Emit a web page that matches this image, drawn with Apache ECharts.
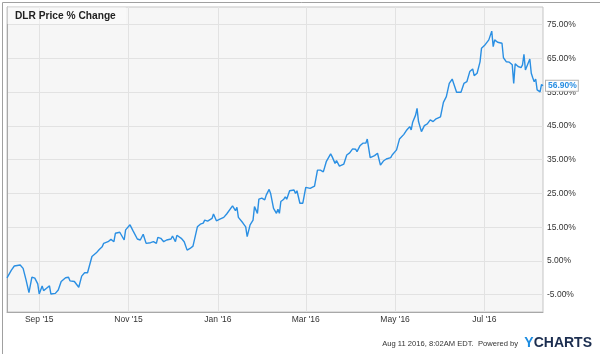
<!DOCTYPE html>
<html>
<head>
<meta charset="utf-8">
<script src="https://cdn.jsdelivr.net/npm/echarts@6/dist/echarts.min.js"></script>
<style>
  html, body { margin: 0; padding: 0; background: #fff; }
  #dlr-chart { width: 600px; height: 354px; }
</style>
</head>
<body>
<div id="dlr-chart"></div>
<script>
  // days counted from Aug 10 2015, values are % change
  const startDay = [2015, 7, 10];
  const spanDays = 366;
  const days = [
    0, 3, 5, 9, 11, 13, 15, 17,
    19, 21, 22, 24, 25, 27, 29, 30, 33, 35, 37, 40,
    42, 43, 46, 49, 51, 52, 53, 55,
    58, 61, 63, 65, 66, 69, 71, 73,
    74, 77, 78, 80, 81, 84, 86, 87,
    89, 91, 93, 95, 98, 100, 102, 103,
    105, 107, 109, 112, 113, 115, 116, 119,
    121, 123, 125, 127, 130, 132, 134, 135,
    137, 140, 141, 143, 145, 148, 150, 151,
    154, 156, 157, 158, 161, 163, 164, 165,
    166, 168, 169, 171, 172, 174, 176, 177,
    179, 180, 182, 184, 185, 186, 187, 189,
    190, 191, 193, 196, 197, 198, 200, 202,
    204, 205, 207, 210, 212, 214, 216, 218,
    221, 222, 224, 225, 227, 230, 231, 232,
    234, 236, 238, 239, 241, 243, 245, 246,
    248, 251, 253, 255, 257, 259, 262, 263,
    266, 267, 268, 271, 273, 275, 276, 277,
    278, 279, 280, 281, 283, 285, 287, 288,
    289, 291, 293, 296, 298, 300, 302, 304,
    305, 307, 310, 312, 314, 316, 318, 319,
    321, 323, 324, 326, 329, 331, 332, 333,
    335, 338, 339, 341, 343, 345, 346, 347,
    349, 351, 352, 353, 354, 357, 358, 359,
    360, 361, 362, 364, 365, 366
  ];
  const pctChange = [
    0, 2.3, 3.5, 3.8, 2.8, -0.6, -4.4, 0.2,
    -0.1, -1.8, -4.8, -2.4, -3.8, -3.1, -2.4, -4.8, -4.6, -3.6, -1.1, 0.0,
    0.15, -0.9, -1.1, -2.8, 0.5, 0.15, 1.5, 1.5,
    6.3, 7.4, 8.4, 9.2, 10.2, 10.7, 11.4, 10.7,
    13.2, 13.5, 13.0, 11.2, 14.2, 15.7, 14.0, 14.0,
    11.5, 11.2, 12.9, 10.2, 10.4, 10.7, 10.2, 12.0,
    11.7, 10.7, 11.2, 11.5, 12.4, 10.7, 12.6, 11.7,
    10.7, 8.2, 8.7, 9.4, 15.1, 15.9, 16.2, 17.1,
    16.8, 17.6, 18.9, 16.9, 17.3, 17.9, 18.9, 19.3,
    21.3, 19.9, 20.9, 17.9, 16.3, 15.1, 12.2, 12.0,
    15.7, 17.1, 21.1, 19.1, 23.3, 23.6, 23.1, 24.5,
    26.2, 25.0, 20.6, 19.1, 20.3, 19.1, 22.6, 23.3,
    24.0, 23.3, 25.8, 26.0, 25.0, 25.8, 22.1, 22.1,
    26.8, 27.2, 26.5, 27.2, 31.9, 31.9, 31.4, 34.4,
    36.7, 35.9, 33.9, 34.7, 33.1, 33.7, 34.1, 36.4,
    37.0, 38.2, 38.1, 37.4, 39.1, 39.9, 39.9, 41.1,
    35.6, 36.2, 36.9, 33.4, 34.6, 35.2, 35.6, 36.4,
    37.9, 38.2, 41.1, 42.5, 43.8, 44.8, 43.8, 46.1,
    45.8, 48.2, 50.2, 46.3, 43.3, 45.1, 45.6, 45.6,
    46.8, 46.3, 47.1, 47.7, 52.0, 53.7, 57.6, 58.9,
    57.6, 55.0, 55.0, 57.6, 58.1, 61.1, 61.9, 59.9,
    60.6, 64.0, 68.0, 68.8, 70.5, 73.1, 68.5, 70.5,
    69.8, 69.5, 65.2, 64.0, 63.9, 63.1, 57.6, 63.4,
    62.6, 62.3, 63.1, 66.2, 61.6, 64.8, 60.6, 59.3,
    58.1, 58.9, 55.7, 55.1, 57.3, 56.9
  ];
  const monthNames = ['Jan', 'Feb', 'Mar', 'Apr', 'May', 'Jun', 'Jul', 'Aug', 'Sep', 'Oct', 'Nov', 'Dec'];
  const tickMin = -5;
  const tickMax = 75;
  const tickStep = 10;
  const plotMin = -10.13;
  const plotMax = 80.24;

  const DAY = 24 * 3600 * 1000;
  const t0 = new Date(startDay[0], startDay[1], startDay[2]).getTime();
  const seriesData = days.map(function (d, i) {
    return [t0 + d * DAY, pctChange[i]];
  });

  // plot box in pixels
  const plotTop = 7, plotBottom = 312, plotLeft = 7, plotRight = 543;
  const pxPerPct = (plotBottom - plotTop) / (plotMax - plotMin);
  const tickTop = plotTop + (plotMax - tickMax) * pxPerPct;
  const tickBottom = plotBottom - (tickMin - plotMin) * pxPerPct;

  const option = {
    backgroundColor: '#fff',
    animation: false,
    title: {
      text: 'DLR Price % Change',
      left: plotLeft,
      top: plotTop,
      padding: [4, 10, 3, 8],
      backgroundColor: 'rgba(255,255,255,0.4)',
      textStyle: {
        fontFamily: 'Liberation Sans, Arial, sans-serif',
        fontSize: 10.2,
        fontWeight: 'bold',
        color: '#222'
      }
    },
    grid: [
      {
        left: plotLeft, right: 600 - plotRight, top: plotTop, bottom: 354 - plotBottom,
        show: true,
        backgroundColor: '#f6f6f6',
        borderColor: '#c4c4c4',
        borderWidth: 1,
        outerBoundsMode: 'none'
      },
      {
        left: plotLeft, right: 600 - plotRight, top: tickTop, bottom: 354 - tickBottom,
        outerBoundsMode: 'none'
      }
    ],
    xAxis: [
      {
        type: 'time',
        gridIndex: 0,
        min: t0,
        max: t0 + spanDays * DAY,
        minInterval: 61 * DAY,
        maxInterval: 61 * DAY,
        axisLine: { show: true, onZero: false, lineStyle: { color: '#a8a8a8', width: 1 } },
        axisTick: { show: false },
        axisLabel: {
          margin: 3,
          showMinLabel: false,
          showMaxLabel: false,
          fontFamily: 'Liberation Sans, Arial, sans-serif',
          fontSize: 8.5,
          color: '#333',
          formatter: function (value) {
            const d = new Date(value);
            return monthNames[d.getMonth()] + " '" + String(d.getFullYear()).slice(2);
          }
        },
        splitLine: { show: true, lineStyle: { color: '#e2e2e2', width: 1 } }
      },
      {
        type: 'value',
        gridIndex: 1,
        show: false
      }
    ],
    yAxis: [
      {
        type: 'value',
        gridIndex: 0,
        position: 'left',
        min: plotMin,
        max: plotMax,
        axisLine: { show: true, onZero: false, lineStyle: { color: '#a8a8a8' } },
        axisTick: { show: false },
        axisLabel: { show: false },
        splitLine: { show: false }
      },
      {
        type: 'value',
        gridIndex: 1,
        position: 'right',
        min: tickMin,
        max: tickMax,
        interval: tickStep,
        axisLine: { show: false },
        axisTick: { show: false },
        axisLabel: {
          margin: 4,
          align: 'left',
          fontFamily: 'Liberation Sans, Arial, sans-serif',
          fontSize: 8.5,
          color: '#333',
          formatter: function (v) { return v.toFixed(2) + '%'; }
        },
        splitLine: { show: true, lineStyle: { color: '#e2e2e2', width: 1 } }
      }
    ],
    series: [
      {
        name: 'DLR',
        type: 'line',
        xAxisIndex: 0,
        yAxisIndex: 0,
        data: seriesData,
        showSymbol: false,
        symbol: 'none',
        lineStyle: { color: '#2a8fe3', width: 1.4 },
        z: 3,
        endLabel: {
          show: true,
          distance: 3,
          formatter: function (p) { return p.value[1].toFixed(2) + '%'; },
          fontFamily: 'Liberation Sans, Arial, sans-serif',
          fontSize: 8.5,
          fontWeight: 'bold',
          color: '#2a8fe3',
          backgroundColor: '#fff',
          borderColor: '#b4b4b4',
          borderWidth: 1,
          padding: [1, 1, 0, 2]
        }
      }
    ],
    graphic: [
      {
        type: 'rect',
        left: 0, top: 0,
        shape: { x: 0.5, y: 0.5, width: 599, height: 352 },
        style: { fill: 'none', stroke: '#a0a0a0', lineWidth: 1 },
        silent: true
      },
      {
        type: 'text',
        right: 82,
        top: 340,
        style: {
          text: 'Aug 11 2016, 8:02AM EDT.  Powered by',
          fontFamily: 'Liberation Sans, Arial, sans-serif',
          fontSize: 7.6,
          fill: '#333'
        }
      },
      {
        type: 'text',
        right: 8,
        top: 336,
        style: {
          text: '{y|Y}{c|CHARTS}',
          rich: {
            y: { fontFamily: 'Liberation Sans, Arial, sans-serif', fontSize: 14, fontWeight: 'bold', fill: '#1d8ce0' },
            c: { fontFamily: 'Liberation Sans, Arial, sans-serif', fontSize: 14, fontWeight: 'bold', fill: '#1b2d4f' }
          }
        }
      }
    ]
  };

  const dlrChart = echarts.init(document.getElementById('dlr-chart'));
  dlrChart.setOption(option);
  window.addEventListener('resize', function () {
    dlrChart.resize();
  });
</script>
</body>
</html>
